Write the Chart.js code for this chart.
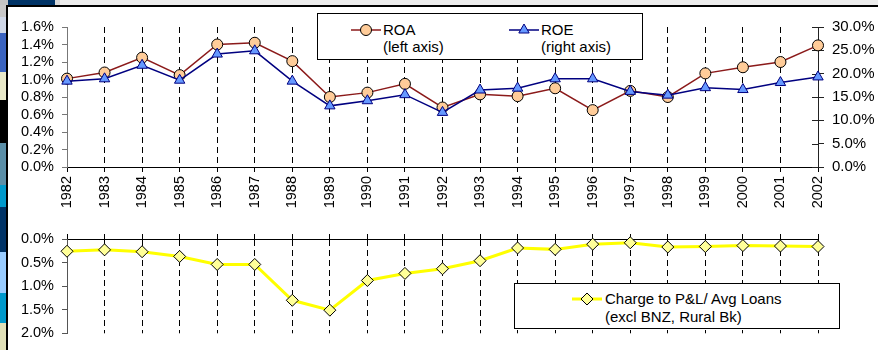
<!DOCTYPE html>
<html>
<head>
<meta charset="utf-8">
<script src="https://cdn.jsdelivr.net/npm/chart.js@4.4.0/dist/chart.umd.min.js"></script>
<style>
  body { margin: 0; width: 878px; height: 350px; background: #fff; position: relative; overflow: hidden;
         font-family: "Liberation Sans", Arial, sans-serif; color: #000; }
  canvas { position: absolute; left: 0; }
  #franjaSup { position: absolute; left: 0; top: 0; width: 878px; height: 5px;
    background: linear-gradient(to right, #c4c4c4 0 8px, #003366 8px 55px, #d8d8d8 55px 60px, #ececec 60px); }
  #franjaIzq { position: absolute; left: 0; top: 5px; width: 6px; height: 345px;
    background: linear-gradient(to bottom, #c8c8c8 0 12px, #d0d8e8 12px 28px, #3b64c0 28px 67px, #e8e8c8 67px 95px,
      #000 95px 138px, #5b8fa8 138px 180px, #0099cc 180px 202px, #003366 202px 247px, #99ccff 247px 288px,
      #0099cc 288px 318px, #e0e0b8 318px); }
  #marco { position: absolute; left: 6px; top: 5px; width: 880px; height: 360px;
    border-top: 2px solid #000; border-left: 2px solid #000; box-sizing: border-box; }
  .leyenda { position: absolute; background: #fff; border: 1px solid #000; box-sizing: border-box; font-size: 15px; }
  .leyenda svg { position: absolute; left: 0; top: 0; }
  .leyenda span { position: absolute; line-height: 17px; white-space: nowrap; }
</style>
</head>
<body>
<div id="franjaSup"></div>
<div id="franjaIzq"></div>
<div id="marco"></div>
<canvas id="graficaRentabilidad" width="878" height="215" style="top:0"></canvas>
<canvas id="graficaCargos" width="878" height="135" style="top:215px"></canvas>

<div class="leyenda" style="left:317px; top:13px; width:326px; height:47px;">
  <svg width="326" height="47">
    <line x1="33" y1="16" x2="63" y2="16" stroke="#8b1a1a" stroke-width="1.5"/>
    <circle cx="48" cy="16" r="5.5" fill="#ffcc99" stroke="#000" stroke-width="1"/>
    <line x1="191" y1="16" x2="221" y2="16" stroke="#000080" stroke-width="1.5"/>
    <polygon points="206,10 211.2,19 200.8,19" fill="#6699ff" stroke="#000080" stroke-width="1"/>
  </svg>
  <span style="left:65px; top:7px;">ROA</span>
  <span style="left:65px; top:24px;">(left axis)</span>
  <span style="left:223px; top:7px;">ROE</span>
  <span style="left:223px; top:24px;">(right axis)</span>
</div>

<div class="leyenda" style="left:514px; top:283px; width:326px; height:46px;">
  <svg width="326" height="46">
    <line x1="57" y1="15" x2="87" y2="15" stroke="#ffff00" stroke-width="3"/>
    <polygon points="72,9 78,15 72,21 66,15" fill="#ffff99" stroke="#000" stroke-width="1"/>
  </svg>
  <span style="left:90px; top:6px;">Charge to P&amp;L/ Avg Loans</span>
  <span style="left:90px; top:24px;">(excl BNZ, Rural Bk)</span>
</div>

<script>
// Datos
const anios = ['1982', '1983', '1984', '1985', '1986', '1987', '1988', '1989', '1990', '1991', '1992',
  '1993', '1994', '1995', '1996', '1997', '1998', '1999', '2000', '2001', '2002'];
const roa = [1.01, 1.08, 1.25, 1.05, 1.40, 1.42, 1.21, 0.80, 0.85, 0.95, 0.68,
  0.83, 0.81, 0.90, 0.65, 0.87, 0.80, 1.07, 1.14, 1.20, 1.39];
const roe = [18.4, 18.9, 21.8, 18.6, 24.2, 24.9, 18.4, 13.1, 14.2, 15.5, 11.7,
  16.5, 16.9, 18.9, 18.9, 16.2, 15.4, 17.0, 16.6, 18.1, 19.3];
const cargoPyG = [0.26, 0.23, 0.27, 0.37, 0.54, 0.54, 1.30, 1.51, 0.88, 0.73, 0.63,
  0.46, 0.19, 0.22, 0.11, 0.08, 0.17, 0.16, 0.14, 0.15, 0.16];

// Escalas de los ejes (mínimo, máximo, paso)
const ejeRoa = [0, 1.6, 0.2];
const ejeRoe = [0, 30, 5];
const ejeCargo = [0, 2, 0.5];

const fuente = { family: '"Liberation Sans", Arial, sans-serif', size: 14.5 };
const porcentaje = v => Number(v).toFixed(1) + '%';

// Marcas del eje derecho que cruzan hacia dentro
const marcasCruzadas = {
  id: 'marcasCruzadas',
  beforeDatasetsDraw(chart) {
    const esc = chart.scales.y1;
    if (!esc) return;
    const ctx = chart.ctx;
    ctx.save();
    ctx.strokeStyle = '#222';
    ctx.lineWidth = 1;
    esc.ticks.forEach(t => {
      const y = Math.round(esc.getPixelForValue(t.value)) + 0.5;
      ctx.beginPath();
      ctx.moveTo(esc.left - 6, y);
      ctx.lineTo(esc.left, y);
      ctx.stroke();
    });
    ctx.restore();
  }
};

Chart.defaults.font = fuente;
Chart.defaults.color = '#000';

new Chart(document.getElementById('graficaRentabilidad'), {
  type: 'line',
  data: {
    labels: anios,
    datasets: [{
      label: 'ROA',
      data: roa,
      yAxisID: 'y',
      order: 1,
      borderColor: '#8b1a1a',
      borderWidth: 1.5,
      pointStyle: 'circle',
      pointRadius: 5.5,
      pointBackgroundColor: '#ffcc99',
      pointBorderColor: '#000',
      pointBorderWidth: 1,
      clip: false
    }, {
      label: 'ROE',
      data: roe,
      yAxisID: 'y1',
      order: 0,
      borderColor: '#000080',
      borderWidth: 1.5,
      pointStyle: 'triangle',
      pointRadius: 6,
      pointBackgroundColor: '#6699ff',
      pointBorderColor: '#000080',
      pointBorderWidth: 1,
      clip: false
    }]
  },
  options: {
    responsive: false,
    animation: false,
    layout: { padding: { top: 27, bottom: 0, left: 0, right: 0 } },
    plugins: { legend: { display: false }, tooltip: { enabled: false } },
    scales: {
      x: {
        offset: false,
        grid: { color: '#000', lineWidth: 1, tickLength: 5, tickColor: '#000' },
        border: { color: '#000', dash: [6, 4] },
        ticks: { minRotation: 90, maxRotation: 90, padding: 4, autoSkip: false },
        afterFit(scale) { scale.height = 48; }
      },
      y: {
        position: 'left',
        min: ejeRoa[0], max: ejeRoa[1],
        grid: { drawOnChartArea: false, tickLength: 5, color: '#777' },
        border: { color: '#777' },
        ticks: { stepSize: ejeRoa[2], padding: 8, autoSkip: false, callback: porcentaje },
        afterFit(scale) { scale.width = 67; }
      },
      y1: {
        position: 'right',
        min: ejeRoe[0], max: ejeRoe[1],
        grid: { drawOnChartArea: false, tickLength: 6, color: '#222' },
        border: { color: '#222' },
        ticks: { stepSize: ejeRoe[2], padding: 8, autoSkip: false, callback: porcentaje, font: { size: 15 } },
        afterFit(scale) { scale.width = 60; }
      }
    }
  },
  plugins: [marcasCruzadas]
});

new Chart(document.getElementById('graficaCargos'), {
  type: 'line',
  data: {
    labels: anios,
    datasets: [{
      label: 'Charge to P&L/ Avg Loans (excl BNZ, Rural Bk)',
      data: cargoPyG,
      borderColor: '#ffff00',
      borderWidth: 3,
      pointStyle: 'rectRot',
      pointRadius: 6,
      pointBackgroundColor: '#ffff99',
      pointBorderColor: '#000',
      pointBorderWidth: 1,
      clip: false
    }]
  },
  options: {
    responsive: false,
    animation: false,
    layout: { padding: { top: 0, bottom: 10, left: 0, right: 60 } },
    plugins: { legend: { display: false }, tooltip: { enabled: false } },
    scales: {
      x: {
        position: 'top',
        offset: false,
        grid: { color: '#000', lineWidth: 1, tickLength: 5, tickColor: '#000' },
        border: { color: '#000', dash: [6, 4] },
        ticks: { display: false },
        afterFit(scale) { scale.height = 24; }
      },
      y: {
        reverse: true,
        min: ejeCargo[0], max: ejeCargo[1],
        grid: { drawOnChartArea: false, tickLength: 5, color: '#555' },
        border: { color: '#555' },
        ticks: { stepSize: ejeCargo[2], padding: 8, autoSkip: false, callback: porcentaje },
        afterFit(scale) { scale.width = 67; }
      }
    }
  }
});
</script>
</body>
</html>
